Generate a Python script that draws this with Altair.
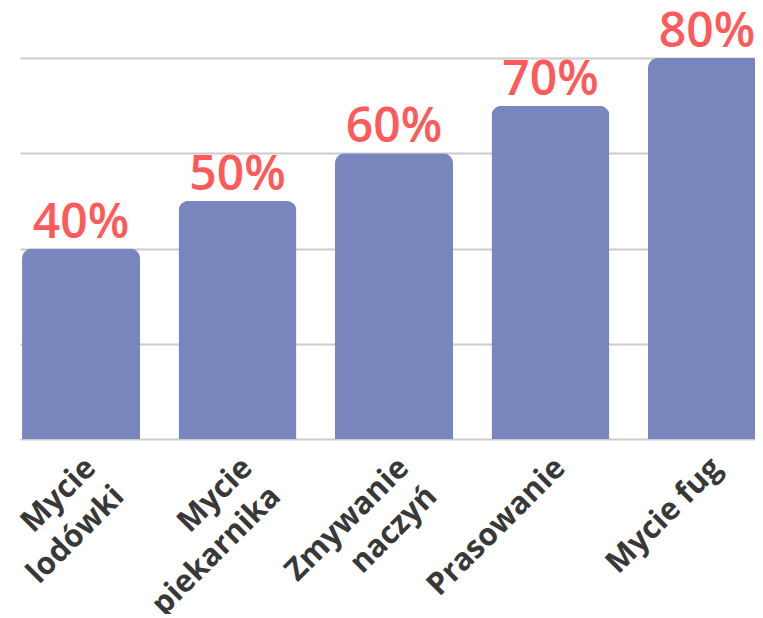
import altair as alt
import pandas as pd

categories = ["Mycie\nlodówki", "Mycie\npiekarnika", "Zmywanie\nnaczyń", "Prasowanie", "Mycie fug"]
values = [40, 50, 60, 70, 80]
labels = ["40%", "50%", "60%", "70%", "80%"]
grid_ticks = [0, 20, 40, 60, 80]

df = pd.DataFrame({"cat": categories, "val": values, "lab": labels})

x = alt.X(
    "cat:N",
    sort=None,
    title=None,
    scale=alt.Scale(paddingInner=0.246, paddingOuter=0.013),
    axis=alt.Axis(
        labelAngle=-45,
        labelAlign="right",
        labelBaseline="middle",
        labelFont="Open Sans",
        labelFontWeight="bold",
        labelFontSize=31,
        labelColor="#383838",
        labelLineHeight=40,
        labelPadding=24,
        labelOffset=10,
        labelExpr="split(datum.label, '\\n')",
        ticks=False,
        domain=False,
        grid=False,
        labelLimit=0,
        labelOverlap=False,
    ),
)
y = alt.Y(
    "val:Q",
    title=None,
    scale=alt.Scale(domain=[0, 80], nice=False),
    axis=alt.Axis(
        values=grid_ticks,
        labels=False,
        ticks=False,
        domain=False,
        grid=True,
        gridColor="#cccccc",
        gridWidth=2,
    ),
)

bars = alt.Chart(df).mark_bar(
    color="#7886bd", cornerRadiusTopLeft=10, cornerRadiusTopRight=10
).encode(x=x, y=y)

text = alt.Chart(df).mark_text(
    font="Open Sans",
    fontWeight=600,
    fontSize=48,
    color="#ff5a5a",
    baseline="alphabetic",
    dy=-11,
).encode(x=alt.X("cat:N", sort=None), y=alt.Y("val:Q"), text="lab:N")

chart = (
    alt.layer(bars, text)
    .properties(
        width=748,
        height=381,
        autosize=alt.AutoSizeParams(type="none"),
        padding={"left": 12, "top": 50, "right": -13, "bottom": 175},
    )
    .configure_view(stroke=None)
)

chart.save("out.html", embed_options={"renderer": "svg", "actions": False})
